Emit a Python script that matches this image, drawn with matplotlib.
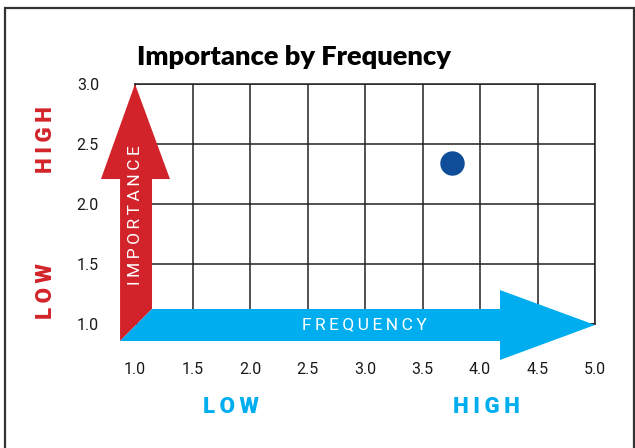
import matplotlib
matplotlib.use("Agg")
import matplotlib.pyplot as plt
from matplotlib.patches import Polygon, Rectangle

# data
freq = [3.76]
importance = [2.34]
x_ticks = [1.0, 1.5, 2.0, 2.5, 3.0, 3.5, 4.0, 4.5, 5.0]
y_ticks = [1.0, 1.5, 2.0, 2.5, 3.0]

RED = '#d2232a'
BLUE = '#00aeef'
DOT = '#0f4d99'
INK = '#222222'

plt.rcParams['font.family'] = ['Roboto', 'DejaVu Sans']

W, H = 635, 448
fig = plt.figure(figsize=(W / 100, H / 100), dpi=100)


def px(x, y):
    # pixel position -> figure fraction
    return x / W, 1 - y / H


def spaced(s, sep='\u2009'):
    return sep.join(s)


# outer frame (open at the bottom)
fig.patches.append(Rectangle(px(5, 470), (W - 6) / W, (470 - 8) / H,
                             transform=fig.transFigure, fill=False,
                             edgecolor='#333333', lw=1.6))

ax = fig.add_axes([135 / W, 1 - 324 / H, 460 / W, 240 / H])
ax.set_xlim(1, 5)
ax.set_ylim(1, 3)
ax.set_xticks(x_ticks)
ax.set_yticks(y_ticks)
ax.set_xticklabels([f'{v:.1f}' for v in x_ticks])
ax.set_yticklabels([f'{v:.1f}' for v in y_ticks])
ax.grid(True, color=INK, lw=1.1, zorder=1)
ax.set_axisbelow(True)
ax.tick_params(length=0, pad=26, labelsize=11.5, labelcolor='#1a1a1a')
ax.tick_params(axis='x', pad=27)
for s in ax.spines.values():
    s.set_color(INK)
    s.set_linewidth(1.1)

# axis arrows
red_arrow = [(0.870, 0.858), (0.870, 2.208), (0.704, 2.208), (1.0, 3.0),
             (1.304, 2.208), (1.148, 2.208), (1.148, 1.125)]
blue_arrow = [(0.870, 0.858), (1.148, 1.125), (4.174, 1.125), (4.174, 1.283),
              (5.0, 0.992), (4.174, 0.700), (4.174, 0.858)]
ax.add_patch(Polygon(red_arrow, closed=True, facecolor=RED, edgecolor='none',
                     clip_on=False, zorder=3))
ax.add_patch(Polygon(blue_arrow, closed=True, facecolor=BLUE, edgecolor='none',
                     clip_on=False, zorder=3))

ax.scatter(freq, importance, s=275, color=DOT, zorder=5, clip_on=False)

fig.text(*px(136, 215), spaced('IMPORTANCE'), color='white', fontsize=12.5,
         rotation=90, ha='center', va='center')
fig.text(*px(364, 325), spaced('FREQUENCY'), color='white', fontsize=12.5,
         ha='center', va='center')

fig.text(*px(46, 140), spaced('HIGH'), color=RED, fontsize=16, fontweight='heavy',
         rotation=90, ha='center', va='center')
fig.text(*px(46, 291), spaced('LOW'), color=RED, fontsize=16, fontweight='heavy',
         rotation=90, ha='center', va='center')
fig.text(*px(231, 407), spaced('LOW'), color=BLUE, fontsize=16, fontweight='heavy',
         ha='center', va='center')
fig.text(*px(486, 407), spaced('HIGH'), color=BLUE, fontsize=16, fontweight='heavy',
         ha='center', va='center')

fig.text(*px(137, 65), 'Importance by Frequency', family=['Lato', 'DejaVu Sans'],
         fontsize=19.6, fontweight='heavy', color='black', ha='left', va='baseline')

fig.savefig('out.png', dpi=100)
